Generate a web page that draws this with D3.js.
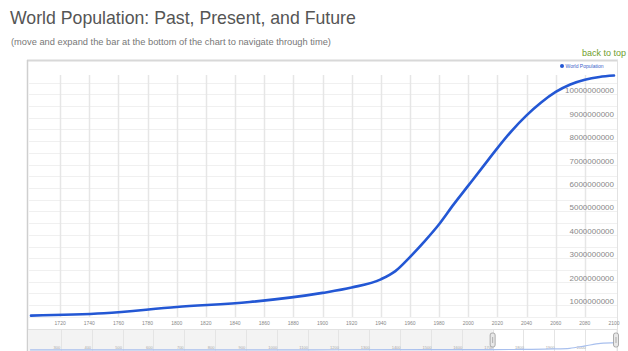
<!DOCTYPE html>
<html>
<head>
<meta charset="utf-8">
<script src="https://cdn.jsdelivr.net/npm/d3@7/dist/d3.min.js"></script>
<style>
  html, body { margin: 0; padding: 0; background: #fff; overflow: hidden; }
  svg { display: block; font-family: "Liberation Sans", Arial, sans-serif; }
</style>
</head>
<body>
<svg id="chart" width="628" height="351"></svg>
<script>
// ---- data ----
const years = [1700, 1750, 1800, 1850, 1900, 1920, 1940, 1950, 1960, 1970, 1980, 1990, 2000, 2010, 2020, 2030, 2040, 2050, 2060, 2070, 2080, 2090, 2100];
const population = [550000000, 650000000, 920000000, 1130000000, 1520000000, 1750000000, 2100000000, 2450000000, 3050000000, 3720000000, 4450000000, 5300000000, 6100000000, 6900000000, 7700000000, 8450000000, 9100000000, 9650000000, 10100000000, 10420000000, 10620000000, 10740000000, 10800000000];
const xTickYears = [1720, 1740, 1760, 1780, 1800, 1820, 1840, 1860, 1880, 1900, 1920, 1940, 1960, 1980, 2000, 2020, 2040, 2060, 2080, 2100];
const yTickValues = [1000000000, 2000000000, 3000000000, 4000000000, 5000000000, 6000000000, 7000000000, 8000000000, 9000000000, 10000000000];
const yTickLabels = ["1000000000", "2000000000", "3000000000", "4000000000", "5000000000", "6000000000", "7000000000", "8000000000", "9000000000", "10000000000"];
const navYears = [200, 500, 1000, 1200, 1500, 1600, 1700, 1800, 1900, 1950, 2000, 2050, 2100];
const navPopulation = [190000000, 200000000, 270000000, 360000000, 460000000, 550000000, 550000000, 920000000, 1520000000, 2450000000, 6100000000, 9650000000, 10800000000];
const navTickYears = [300, 400, 500, 600, 700, 800, 900, 1000, 1100, 1200, 1300, 1400, 1500, 1600, 1700, 1800, 1900, 2000];
const selection = [1700, 2100];
const seriesName = "World Population";
const titleText = "World Population: Past, Present, and Future";
const subtitleText = "(move and expand the bar at the bottom of the chart to navigate through time)";

const svg = d3.select("#chart");
const lineColor = "#2357d4";

// ---- scales ----
const x = d3.scaleLinear().domain([1700, 2100]).range([31, 614]);
const y = d3.scaleLinear().domain([0, 11400000000]).range([328.5, 61.5]);
const xNav = d3.scaleLinear().domain([190, 2100]).range([27, 616]);
const yNav = d3.scaleLinear().domain([0, 11000000000]).range([350, 342.5]);

// ---- titles ----
svg.append("text").attr("x", 10).attr("y", 24)
  .attr("font-size", 17.7).attr("fill", "#555").text(titleText);
svg.append("text").attr("x", 11).attr("y", 45)
  .attr("font-size", 9.3).attr("fill", "#777").text(subtitleText);
svg.append("text").attr("x", 626).attr("y", 56).attr("text-anchor", "end")
  .attr("font-size", 9).attr("fill", "#6f9e2c").text("back to top");

// ---- frame ----
svg.append("line").attr("x1", 27).attr("x2", 618).attr("y1", 60.5).attr("y2", 60.5)
  .attr("stroke", "#d8d8d8").attr("stroke-width", 2);
svg.append("line").attr("x1", 27.5).attr("x2", 27.5).attr("y1", 60).attr("y2", 351)
  .attr("stroke", "#cfcfcf").attr("stroke-width", 1.5);
svg.append("line").attr("x1", 617.5).attr("x2", 617.5).attr("y1", 60).attr("y2", 351)
  .attr("stroke", "#e2e2e2").attr("stroke-width", 1);

// ---- grid ----
const hGrid = d3.range(1, 22).map(k => k * 500000000);
svg.append("g").selectAll("line").data(hGrid).join("line")
  .attr("x1", 29).attr("x2", 617)
  .attr("y1", d => Math.round(y(d)) + 0.5).attr("y2", d => Math.round(y(d)) + 0.5)
  .attr("stroke", "#f0f0f0").attr("stroke-width", 1);
svg.append("g").selectAll("line").data(xTickYears.filter(d => d < 2100)).join("line")
  .attr("x1", d => Math.round(x(d)) + 0.5).attr("x2", d => Math.round(x(d)) + 0.5)
  .attr("y1", 75).attr("y2", 317)
  .attr("stroke", "#e6e6e6").attr("stroke-width", 1.5);

// ---- x labels ----
svg.append("g").selectAll("text").data(xTickYears).join("text")
  .attr("x", d => x(d)).attr("y", 325)
  .attr("text-anchor", "middle").attr("font-size", 5).attr("fill", "#888")
  .text(d => d);

// ---- y labels ----
svg.append("g").selectAll("text").data(yTickValues).join("text")
  .attr("x", 614).attr("y", d => y(d) - 1)
  .attr("text-anchor", "end").attr("font-size", 8).attr("fill", "#888")
  .text((d, i) => yTickLabels[i]);

// ---- line ----
const pts = years.map((yr, i) => [yr, population[i]]);
svg.append("path").datum(pts)
  .attr("fill", "none").attr("stroke", lineColor).attr("stroke-width", 2.6)
  .attr("stroke-linejoin", "round").attr("stroke-linecap", "round")
  .attr("d", d3.line().x(d => x(d[0])).y(d => y(d[1])).curve(d3.curveMonotoneX));

// ---- legend ----
svg.append("circle").attr("cx", 562).attr("cy", 66).attr("r", 2).attr("fill", lineColor);
svg.append("text").attr("x", 565.5).attr("y", 67.8).attr("font-size", 5).attr("fill", "#3a62c9").text(seriesName);

// ---- navigator ----
const nav = svg.append("g");
nav.append("rect").attr("x", 28).attr("y", 329).attr("width", 589).attr("height", 22).attr("fill", "#f3f3f3");
nav.append("rect").attr("x", xNav(selection[0])).attr("y", 329)
  .attr("width", xNav(selection[1]) - xNav(selection[0])).attr("height", 22).attr("fill", "#fff");
nav.append("line").attr("x1", 28).attr("x2", 617).attr("y1", 329.5).attr("y2", 329.5).attr("stroke", "#e2e2e2");
nav.append("g").selectAll("line").data(navTickYears).join("line")
  .attr("x1", d => Math.round(xNav(d)) + 0.5).attr("x2", d => Math.round(xNav(d)) + 0.5)
  .attr("y1", 330).attr("y2", 351).attr("stroke", "#e4e4e4");
nav.append("g").selectAll("text").data(navTickYears).join("text")
  .attr("x", d => xNav(d) - 4).attr("y", 349)
  .attr("text-anchor", "middle").attr("font-size", 4).attr("fill", "#aaa")
  .text(d => d);
const navPts = navYears.map((yr, i) => [yr, navPopulation[i]]);
nav.append("path").datum(navPts)
  .attr("fill", "none").attr("stroke", "#a9c0ee").attr("stroke-width", 1.2)
  .attr("d", d3.line().x(d => xNav(d[0])).y(d => yNav(d[1])).curve(d3.curveMonotoneX));
// handles
nav.append("g").selectAll("rect").data(selection).join("rect")
  .attr("x", d => xNav(d) - 2.5).attr("y", 333).attr("width", 5).attr("height", 14)
  .attr("rx", 2).attr("fill", "#e8e8e8").attr("stroke", "#999").attr("stroke-width", 0.8);
nav.append("g").selectAll("line").data(selection).join("line")
  .attr("x1", d => xNav(d)).attr("x2", d => xNav(d)).attr("y1", 337).attr("y2", 343)
  .attr("stroke", "#888").attr("stroke-width", 0.6);
</script>
</body>
</html>
